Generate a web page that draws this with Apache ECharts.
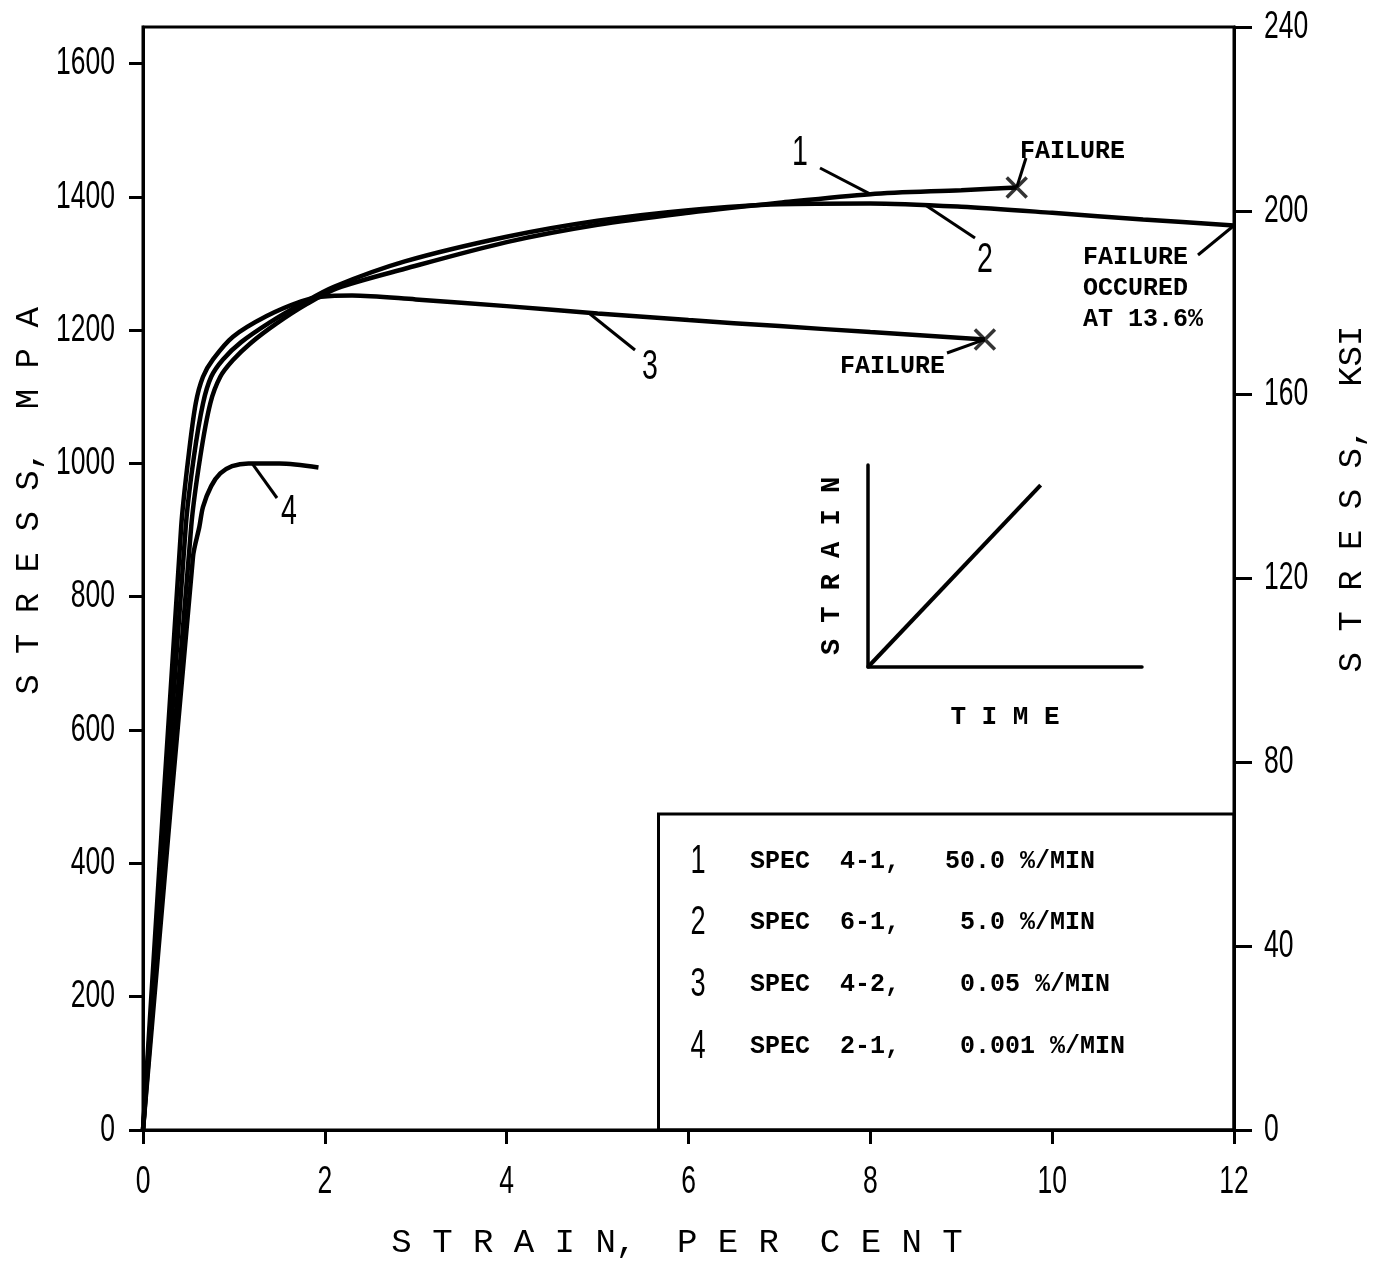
<!DOCTYPE html>
<html>
<head>
<meta charset="utf-8">
<script src="https://cdn.jsdelivr.net/npm/echarts@6.0.0/dist/echarts.min.js"></script>
<style>
  html, body { margin: 0; padding: 0; background: #fff; }
  #chart { width: 1383px; height: 1264px; }
</style>
</head>
<body>
<div id="chart"></div>
<script>
// Engineering stress (MPa) against strain (%) for four specimens pulled at different strain rates.
const spec1 = [[0,0],[0.53,905],[0.63,1010],[0.74,1090],[0.85,1130],[0.99,1155],[1.18,1180],[1.47,1210],
  [1.80,1239],[2.14,1263],[2.88,1292],[4.0,1332],[5.0,1358],[6.0,1376],[7.0,1391],[8.0,1404],[9.0,1410],[9.61,1414]];
const spec2 = [[0,0],[0.47,905],[0.56,1010],[0.66,1090],[0.75,1130],[0.88,1156],[1.08,1182],[1.40,1212],
  [1.75,1240],[2.1,1265],[2.88,1303],[4.0,1340],[5.0,1364],[6.0,1380],[7.0,1389],[8.0,1390],[9.0,1385],
  [10.0,1376],[11.0,1366],[12.0,1357]];
const spec3 = [[0,0],[0.42,905],[0.50,1010],[0.58,1090],[0.66,1130],[0.77,1156],[0.99,1190],[1.36,1221],
  [1.74,1243],[1.96,1250],[2.3,1252],[3.0,1246],[4.0,1236],[5.0,1225],[6.0,1215],[7.0,1206],[8.0,1197],[9.26,1186]];
const spec4 = [[0,0],[0.55,860],[0.62,905],[0.66,935],[0.75,966],[0.85,985],[0.98,996],[1.16,1000],[1.5,1000],[1.93,994]];

// Schematic of the loading history: strain rising linearly with time
const rampTime = [0, 0.63];
const rampStrain = [0, 0.9];

const strainTicks = [0, 2, 4, 6, 8, 10, 12];
const mpaTicks = [0, 200, 400, 600, 800, 1000, 1200, 1400, 1600];
const ksiTicks = [0, 40, 80, 120, 160, 200, 240];

const legendNumbers = ['1', '2', '3', '4'];
const legendLines = [
  'SPEC  4-1,   50.0 %/MIN',
  'SPEC  6-1,    5.0 %/MIN',
  'SPEC  4-2,    0.05 %/MIN',
  'SPEC  2-1,    0.001 %/MIN'
];

const KSI_TO_MPA = 6.894757;
const ksiMax = ksiTicks[ksiTicks.length - 1];
const mpaMax = ksiMax * KSI_TO_MPA;

const SANS = '"Liberation Sans", "DejaVu Sans", sans-serif';
const MONO = '"Liberation Mono", "DejaVu Sans Mono", monospace';
const INK = '#000';
const NARROW_SCALE = 0.68;   // horizontal squeeze for the plotter-style digits

const chart = echarts.init(document.getElementById('chart'), null, { renderer: 'canvas' });

const curveStyle = (data) => ({
  type: 'line', data, xAxisIndex: 0, yAxisIndex: 0,
  showSymbol: false, smooth: 0.3,
  lineStyle: { color: INK, width: 4.5 }, silent: true, z: 5
});

const failures = [spec1[spec1.length - 1], spec3[spec3.length - 1]];

const hiddenLabel = { show: false };

const option = {
  animation: false,
  backgroundColor: '#fff',
  textStyle: { fontFamily: SANS, color: INK },
  grid: [
    { left: 143, top: 27, width: 1091, height: 1103, show: true, borderColor: INK, borderWidth: 3, backgroundColor: 'transparent' },
    { left: 868, top: 465, width: 274, height: 202, show: false }
  ],
  xAxis: [
    {
      type: 'value', gridIndex: 0, min: strainTicks[0], max: strainTicks[strainTicks.length - 1], interval: 2,
      axisLine: { lineStyle: { color: INK, width: 3 } },
      axisTick: { inside: false, length: 14, lineStyle: { color: INK, width: 3 } },
      axisLabel: hiddenLabel,
      splitLine: { show: false }
    },
    {
      type: 'value', gridIndex: 1, min: 0, max: 1,
      axisLine: { onZero: false, lineStyle: { color: INK, width: 3.5 } },
      axisTick: { show: false }, axisLabel: hiddenLabel, splitLine: { show: false },
      name: 'T I M E', nameLocation: 'middle', nameGap: 37,
      nameTextStyle: { fontFamily: MONO, fontSize: 26, fontWeight: 'bold', color: INK }
    }
  ],
  yAxis: [
    {
      type: 'value', gridIndex: 0, position: 'left', min: 0, max: mpaMax,
      axisLine: { lineStyle: { color: INK, width: 3 } },
      axisTick: { inside: false, length: 14, customValues: mpaTicks, lineStyle: { color: INK, width: 3 } },
      axisLabel: hiddenLabel,
      splitLine: { show: false }
    },
    {
      type: 'value', gridIndex: 0, position: 'right', min: 0, max: ksiMax, interval: 40,
      axisLine: { lineStyle: { color: INK, width: 3 } },
      axisTick: { inside: false, length: 18, lineStyle: { color: INK, width: 3 } },
      axisLabel: hiddenLabel,
      splitLine: { show: false }
    },
    {
      type: 'value', gridIndex: 1, min: 0, max: 1,
      axisLine: { show: true, onZero: false, lineStyle: { color: INK, width: 3.5 } },
      axisTick: { show: false }, axisLabel: hiddenLabel, splitLine: { show: false },
      name: 'S T R A I N', nameLocation: 'middle', nameGap: 22, nameRotate: 90,
      nameTextStyle: { fontFamily: MONO, fontSize: 27, fontWeight: 'bold', color: INK }
    }
  ],
  series: [
    Object.assign(curveStyle(spec1), { name: 'SPEC 4-1' }),
    Object.assign(curveStyle(spec2), { name: 'SPEC 6-1' }),
    Object.assign(curveStyle(spec3), { name: 'SPEC 4-2' }),
    Object.assign(curveStyle(spec4), {
      name: 'SPEC 2-1',
      // frame around the specimen table, anchored to the axes
      markArea: {
        silent: true,
        itemStyle: { color: 'transparent', borderColor: INK, borderWidth: 3 },
        data: [[{ coord: [5.67, 0] }, { coord: [12, 474] }]]
      }
    }),
    {
      name: 'failure', type: 'scatter', xAxisIndex: 0, yAxisIndex: 0, data: failures,
      symbol: 'path://M0,0L20,20M20,0L0,20', symbolSize: 20, silent: true, z: 6,
      itemStyle: { color: 'transparent', borderColor: INK, borderWidth: 3.5 }
    },
    {
      name: 'ramp', type: 'line', xAxisIndex: 1, yAxisIndex: 2,
      data: rampTime.map((t, i) => [t, rampStrain[i]]),
      showSymbol: false, silent: true, lineStyle: { color: INK, width: 4 }
    }
  ]
};

chart.setOption(option);

// Tick labels and annotations, placed through the axes' own scales
const px = (p) => chart.convertToPixel({ xAxisIndex: 0, yAxisIndex: 0 }, p);
const xPx = (v) => chart.convertToPixel({ xAxisIndex: 0 }, v);
const leftPx = (v) => chart.convertToPixel({ yAxisIndex: 0 }, v);
const rightPx = (v) => chart.convertToPixel({ yAxisIndex: 1 }, v);

const text = (t, x, y, font, opts = {}) => Object.assign({
  type: 'text', x, y, silent: true, z: 10,
  style: Object.assign({ text: t, font, fill: INK, textAlign: 'center', textVerticalAlign: 'middle' }, opts.style || {})
}, opts.el || {});
const narrow = (t, x, y, size, align) => text(t, x, y, size + 'px ' + SANS,
  { style: { textAlign: align || 'center' }, el: { scaleX: NARROW_SCALE } });
const leader = (a, b) => ({
  type: 'line', silent: true, z: 10,
  shape: { x1: a[0], y1: a[1], x2: b[0], y2: b[1] },
  style: { stroke: INK, lineWidth: 3 }
});

const monoFont = 'bold 25px ' + MONO;
const titleFont = '34px ' + MONO;

const graphics = [];
const axisBottom = leftPx(0);
const axisLeft = xPx(0);
const axisRight = xPx(strainTicks[strainTicks.length - 1]);

strainTicks.forEach((v) => graphics.push(narrow(String(v), xPx(v), axisBottom + 52, 39)));
mpaTicks.forEach((v) => graphics.push(narrow(String(v), axisLeft - 28, leftPx(v), 39, 'right')));
ksiTicks.forEach((v) => graphics.push(narrow(String(v), axisRight + 30, rightPx(v), 39, 'left')));

graphics.push(
  // axis titles
  text('S T R E S S,  M P A', 29, 501, titleFont, { el: { rotation: Math.PI / 2 } }),
  text('S T R E S S,  KSI', 1352, 499, titleFont, { el: { rotation: Math.PI / 2 } }),
  text('S T R A I N,  P E R  C E N T', 677, 1243, titleFont),

  // curve numbers with leaders
  narrow('1', 800, 153, 42),
  leader([820, 168], px([8.0, 1404])),
  narrow('2', 985, 260, 42),
  leader([975, 238], px([8.6, 1388])),
  narrow('3', 650, 367, 42),
  leader([635, 350], px([4.9, 1226])),
  narrow('4', 289, 512, 42),
  leader([277, 498], px([1.2, 1000])),

  // failure notes
  text('FAILURE', 1020, 152, monoFont, { style: { textAlign: 'left' } }),
  leader([1026, 158], px(failures[0])),
  text('FAILURE', 840, 367, monoFont, { style: { textAlign: 'left' } }),
  leader([947, 353], px(failures[1])),
  text('FAILURE\nOCCURED\nAT 13.6%', 1083, 289, monoFont, { style: { textAlign: 'left', lineHeight: 31 } }),
  leader([1198, 255], px(spec2[spec2.length - 1]))
);

// specimen table rows
const rowY = [862, 923, 985, 1047];
legendNumbers.forEach((n, i) => {
  graphics.push(narrow(n, 698, rowY[i], 40));
  graphics.push(text(legendLines[i], 750, rowY[i], monoFont, { style: { textAlign: 'left' } }));
});

chart.setOption({ graphic: graphics });
</script>
</body>
</html>
